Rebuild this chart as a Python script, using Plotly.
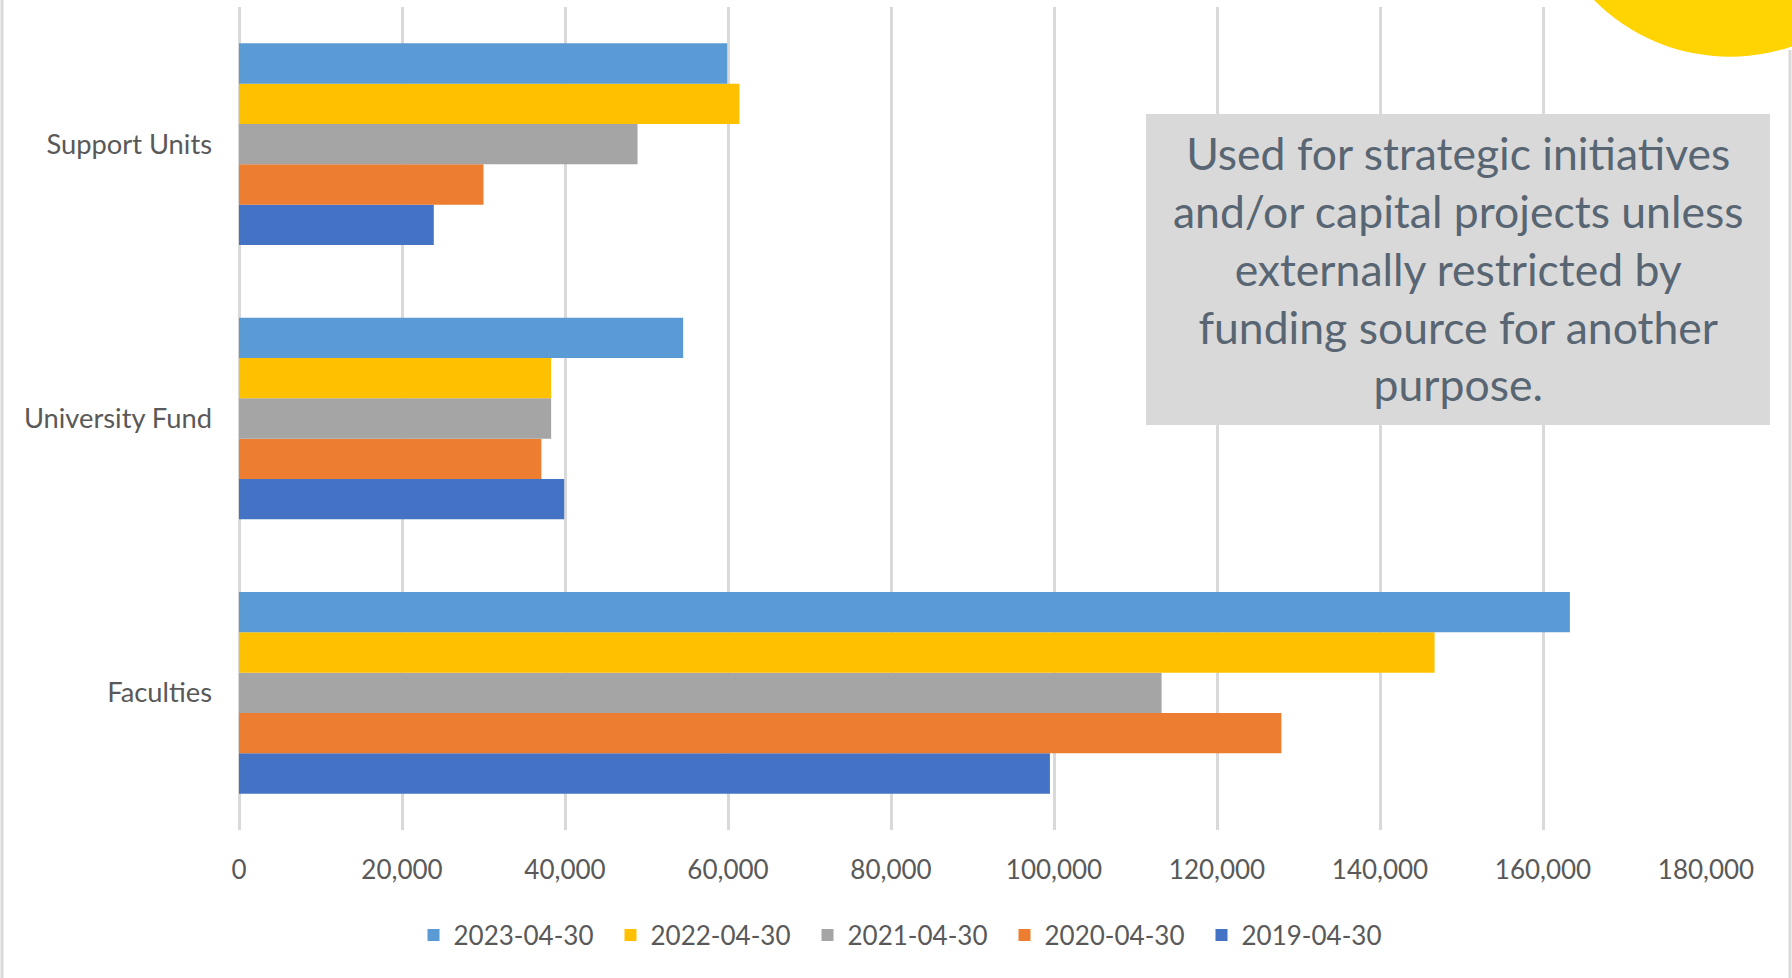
import plotly.graph_objects as go

# Reserve balances by area (bottom-to-top category order on the y axis)
categories = ["Faculties", "University Fund", "Support Units"]

series_names = ["2019-04-30", "2020-04-30", "2021-04-30", "2022-04-30", "2023-04-30"]
series_colors = ["#4472C4", "#ED7D31", "#A5A5A5", "#FFC000", "#5B9BD5"]

values_2019 = [99500, 39900, 23900]
values_2020 = [127900, 37100, 30000]
values_2021 = [113200, 38300, 48900]
values_2022 = [146700, 38300, 61400]
values_2023 = [163300, 54500, 59900]
series_values = [values_2019, values_2020, values_2021, values_2022, values_2023]

x_ticks = list(range(0, 180001, 20000))

note_lines = [
    "Used for strategic initiatives",
    "and/or capital projects unless",
    "externally restricted by",
    "funding source for another",
    "purpose.",
]

W, H = 1792, 978
ML, MR, MT, MB = 239, 86, 7, 148
PW, PH = W - ML - MR, H - MT - MB


def px_x(p):
    return (p - ML) / PW


def px_y(p):
    return (H - MB - p) / PH


FONT = "Lato, 'Open Sans', sans-serif"
GRID = "#D9D9D9"

fig = go.Figure()
for name, color, vals in zip(series_names, series_colors, series_values):
    fig.add_trace(go.Bar(
        name=name,
        y=categories,
        x=vals,
        orientation="h",
        marker=dict(color=color, line=dict(width=0)),
    ))

shapes = [
    # callout box
    dict(type="rect", xref="paper", yref="paper",
         x0=px_x(1146), x1=px_x(1770), y0=px_y(425), y1=px_y(114),
         fillcolor="#D9D9D9", line=dict(width=0), layer="above"),
    # decorative circle in the corner
    dict(type="circle", xref="paper", yref="paper",
         x0=px_x(1730 - 191.4), x1=px_x(1730 + 191.4),
         y0=px_y(-134.7 + 191.4), y1=px_y(-134.7 - 191.4),
         fillcolor="#FFD400", line=dict(width=0), layer="above"),
    # frame edges
    dict(type="line", xref="paper", yref="paper",
         x0=px_x(2), x1=px_x(2), y0=px_y(0), y1=px_y(H),
         line=dict(color=GRID, width=3)),
    dict(type="line", xref="paper", yref="paper",
         x0=px_x(1790), x1=px_x(1790), y0=px_y(50), y1=px_y(H),
         line=dict(color=GRID, width=3)),
]

fig.update_layout(
    width=W, height=H,
    margin=dict(l=ML, r=MR, t=MT, b=MB, pad=0),
    paper_bgcolor="white",
    plot_bgcolor="white",
    barmode="group",
    bargap=0.265,
    bargroupgap=0,
    font=dict(family=FONT, color="#595959", size=26),
    showlegend=True,
    legend=dict(
        orientation="h",
        traceorder="reversed",
        x=px_x(906), xanchor="center",
        y=px_y(935), yanchor="middle",
        font=dict(size=26, color="#595959"),
        itemwidth=30,
        entrywidth=152,
        entrywidthmode="pixels",
        bgcolor="rgba(0,0,0,0)",
    ),
    shapes=shapes,
    annotations=[dict(
        xref="paper", yref="paper",
        x=px_x(1458), y=px_y(268),
        xanchor="center", yanchor="middle",
        text="<br>".join(note_lines),
        showarrow=False,
        align="center",
        font=dict(family=FONT, size=44.5, color="#586572"),
    )],
)

fig.update_xaxes(
    range=[0, 180000],
    tickvals=x_ticks,
    tickformat=",",
    showgrid=True, gridcolor=GRID, gridwidth=2.5,
    zeroline=True, zerolinecolor=GRID, zerolinewidth=2.5,
    showline=False,
    ticks="",
    ticklabelstandoff=22,
    tickfont=dict(size=26, color="#595959"),
    fixedrange=True,
)
fig.update_yaxes(
    categoryorder="array", categoryarray=categories,
    range=[-0.5, 2.5],
    showgrid=False, zeroline=False, showline=False,
    ticks="",
    ticklabelstandoff=26,
    tickfont=dict(size=27.3, color="#595959"),
    fixedrange=True,
)

fig.write_html("out.html")
